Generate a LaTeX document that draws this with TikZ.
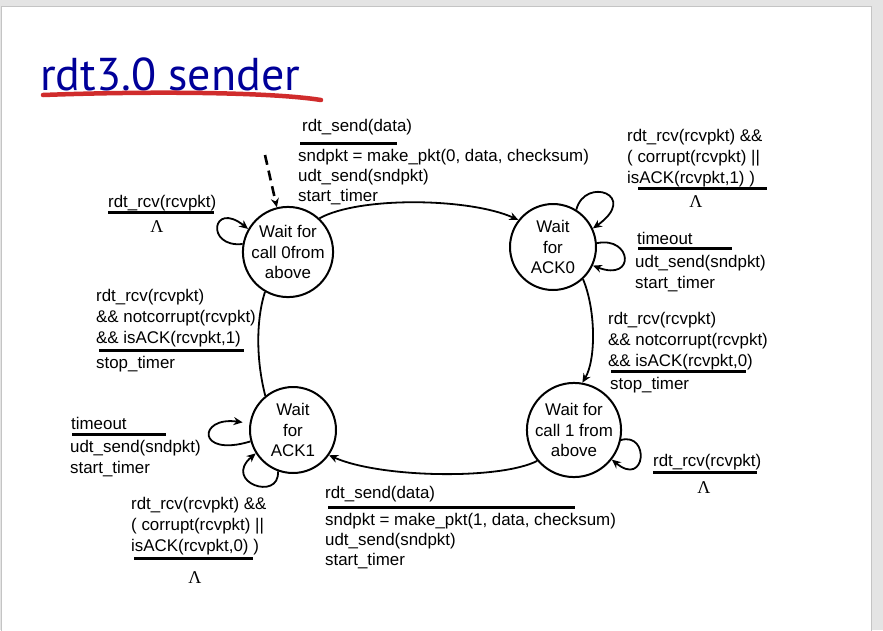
\documentclass[tikz,border=0pt]{standalone}
\usepackage{fontspec}
\setmainfont{Liberation Sans}
\newfontfamily\lamfont{Liberation Serif}
\newfontfamily\titlefont{PT Sans}
\usetikzlibrary{arrows.meta}
\definecolor{pagegray}{HTML}{E4E4E4}
\definecolor{pageedge}{HTML}{C4C4C4}
\definecolor{titleblue}{HTML}{000099}
\definecolor{inkred}{HTML}{D02C2C}
\tikzset{
  fsmstate/.style={circle, draw, line width=2pt, minimum size=86pt, inner sep=0pt,
    align=center, font=\fontsize{16.9}{20.3}\selectfont},
  lab/.style={anchor=base west, inner sep=0pt, font=\fontsize{16.9}{20.3}\selectfont},
  lam/.style={anchor=base, inner sep=0pt, font=\lamfont\fontsize{18}{20}\selectfont},
  guardbar/.style={line width=3pt},
  trans/.style={line width=1.8pt, -{Stealth[length=9pt,width=8pt]}},
  plainedge/.style={line width=1.8pt},
}
\newcommand\flab[4]{\node[lab] (#1) at (#2,#3) {#4};}
\begin{document}
\begin{tikzpicture}[x=1pt,y=-1pt]
  \useasboundingbox (0,0) rectangle (883,630);
  % slide background and page
  \fill[pagegray] (0,0) rectangle (883,630);
  \draw[pageedge, fill=white, line width=1pt] (1,6.5) rectangle (871,640);

  % title
  \node[anchor=base west, inner sep=0pt, text=titleblue,
        font=\titlefont\fontsize{46}{46}\selectfont] (title) at (40,90) {rdt3.0 sender};
  \draw[inkred, line width=4.5pt, line cap=round]
    (43,95) .. controls (150,91) and (270,92) .. (321,100);

  % states
  \node[fsmstate] (s0) at (288,252) {Wait for\\call 0from\\above};
  \node[fsmstate] (s1) at (553,247) {Wait\\for\\ACK0};
  \node[fsmstate] (s2) at (574,430) {Wait for\\call 1 from\\above};
  \node[fsmstate] (s3) at (293,430) {Wait\\for\\ACK1};

  % initial transition
  \coordinate (init) at (265,155);
  \draw[line width=2.6pt, dash pattern=on 10pt off 6pt, -{Stealth[length=9pt,width=8pt]}]
    (init) -- (s0.104);

  % transitions between states
  \draw[trans] (s0.47) .. controls (360,196) and (470,198) .. (s1.142);
  \draw[trans] (s1.-47) .. controls (596,310) and (596,360) .. (s2.80);
  \draw[trans] (s2.-140) .. controls (500,480) and (380,478) .. (s3.-35);
  \draw[plainedge] (s3.129) .. controls (256,360) and (256,320) .. (s0.-120);

  % self loops
  \draw[trans] (s0.170) .. controls (205,248) and (212,200) .. (s0.150);
  \draw[trans] (s1.58) .. controls (585,176) and (640,195) .. (s1.25);
  \draw[trans] (s1.5) .. controls (632,236) and (636,282) .. (s1.-25);
  \draw[trans] (s2.-12) .. controls (650,432) and (646,488) .. (s2.-38);
  \draw[trans] (s3.195) .. controls (196,458) and (198,416) .. ([xshift=-7pt]s3.170);
  \draw[trans] (s3.-110) .. controls (280,502) and (222,482) .. (s3.-148);

  % s0 -> s1
  \flab{a1}{302}{131}{rdt\_send(data)}
  \draw[guardbar] (300,143) -- (397,143);
  \flab{a2}{298}{161}{sndpkt = make\_pkt(0, data, checksum)}
  \flab{a3}{298}{181}{udt\_send(sndpkt)}
  \flab{a4}{298}{201}{start\_timer}

  % s0 loop
  \flab{b1}{108}{207}{rdt\_rcv(rcvpkt)}
  \draw[guardbar] (108,212) -- (214,212);
  \node[lam] (b2) at (157,232) {Λ};

  % s1 upper loop
  \flab{c1}{627}{141}{rdt\_rcv(rcvpkt) \&\&}
  \flab{c2}{627}{162}{( corrupt(rcvpkt) ||}
  \flab{c3}{627}{183}{isACK(rcvpkt,1) )}
  \draw[guardbar] (638,188) -- (767,188);
  \node[lam] (c4) at (696,207) {Λ};

  % s1 timeout loop
  \flab{d1}{637}{244}{timeout}
  \draw[guardbar] (638,248) -- (732,248);
  \flab{d2}{635}{267}{udt\_send(sndpkt)}
  \flab{d3}{635}{288}{start\_timer}

  % s1 -> s2
  \flab{e1}{608}{324}{rdt\_rcv(rcvpkt)}
  \flab{e2}{608}{345}{\&\& notcorrupt(rcvpkt)}
  \flab{e3}{608}{366}{\&\& isACK(rcvpkt,0)}
  \draw[guardbar] (611,371) -- (746,371);
  \flab{e4}{610}{389}{stop\_timer}

  % s2 loop
  \flab{f1}{653}{466}{rdt\_rcv(rcvpkt)}
  \draw[guardbar] (653,472) -- (757,472);
  \node[lam] (f2) at (704,493) {Λ};

  % s2 -> s3
  \flab{g1}{325}{498}{rdt\_send(data)}
  \draw[guardbar] (328,507) -- (575,507);
  \flab{g2}{325}{525}{sndpkt = make\_pkt(1, data, checksum)}
  \flab{g3}{325}{545}{udt\_send(sndpkt)}
  \flab{g4}{325}{565}{start\_timer}

  % s3 lower loop
  \flab{h1}{131}{509}{rdt\_rcv(rcvpkt) \&\&}
  \flab{h2}{131}{530}{( corrupt(rcvpkt) ||}
  \flab{h3}{131}{551}{isACK(rcvpkt,0) )}
  \draw[guardbar] (134,558) -- (253,558);
  \node[lam] (h4) at (195,583) {Λ};

  % s3 timeout loop
  \flab{i1}{71}{429}{timeout}
  \draw[guardbar] (72,434) -- (166,434);
  \flab{i2}{70}{452}{udt\_send(sndpkt)}
  \flab{i3}{70}{473}{start\_timer}

  % s3 -> s0
  \flab{j1}{96}{301}{rdt\_rcv(rcvpkt)}
  \flab{j2}{96}{322}{\&\& notcorrupt(rcvpkt)}
  \flab{j3}{96}{343}{\&\& isACK(rcvpkt,1)}
  \draw[guardbar] (99,350) -- (244,350);
  \flab{j4}{96}{368}{stop\_timer}
\end{tikzpicture}
\end{document}
